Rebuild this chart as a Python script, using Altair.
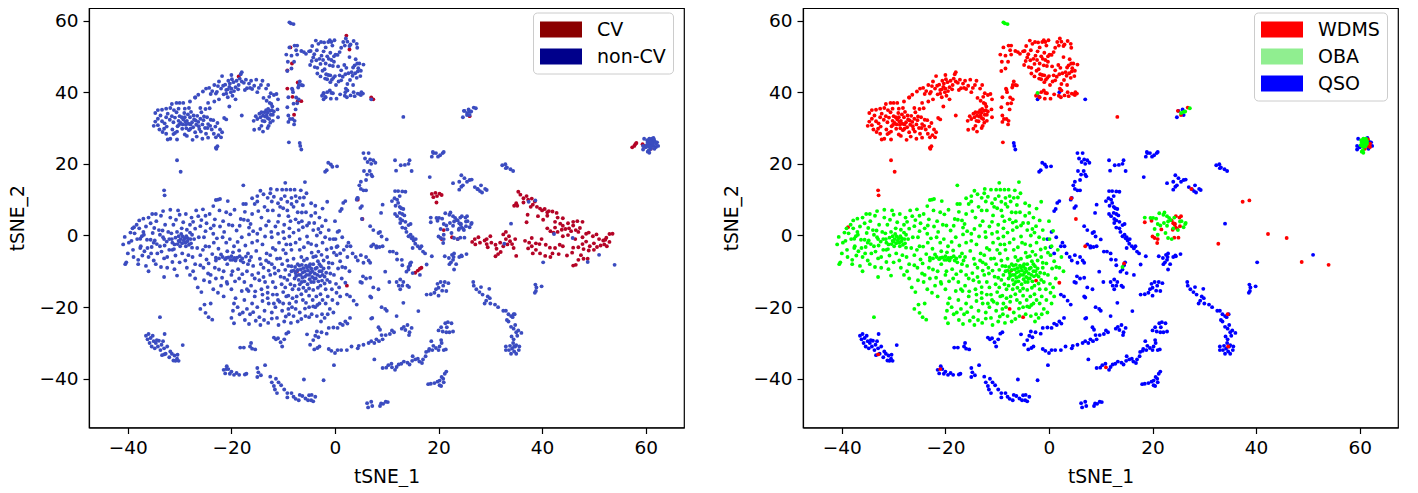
import altair as alt
import pandas as pd

# ---- WDMS: upper clusters
wdms_a = [(-34.7,34.2),(-34.2,35),(-33.4,35.1),(-32.6,35.4),(-31.8,35.6),(-31.5,36.7),(-30.6,37),(-30,37),(-29.3,37),(-28,37.4),(-27,38.5),
(-34.7,31.8),(-34.2,32.6),(-33.7,33.5),(-33.4,31.9),(-32.9,31.3),(-32.6,33),(-32.3,34),(-31.9,32.3),(-31.5,33.3),(-31.2,31.6),(-30.9,32.9),(-30.6,34.4),(-30.4,30.5),(-30.2,32),(-30,33.3),(-29.8,31.4),(-29.5,29.8),(-29.3,32.4),(-29.1,34.2),(-29,33),(-28.8,30.9),(-28.6,32),(-28.3,31.2),(-28.2,29.4),(-28,33),(-27.8,34.5),(-27.6,31.6),(-27.4,30.2),(-27.2,32.4),(-27,28.8),(-26.8,30.9),(-26.6,33.4),(-26.4,31.7),(-26.2,29.7),(-26,32.6),(-25.8,34.4),(-25.6,31),(-25.4,32.2),(-25.1,30),(-24.9,28.4),(-24.7,33),(-24.5,31.1),(-24.2,35.5),(-24,32.3),(-23.8,29.6),(-23.4,28.4),(-23.1,30.4),(-22.7,31.4),(-22.5,28),(-22.2,29.6),(-22,27.4),(-21.8,28.8),(-21.4,32.8),(-21,32.4),(-23,27.4),(-24.5,27.3),(-25.6,27),(-26.7,27.6),(-31.2,28.3),(-31.8,27),(-32.3,26.8),(-30.9,28.6),(-30.5,26.8),(-30.5,29),(-33.3,28.9),(-32.5,30.4),(-34.2,30.8),(-35,30.6),(-33,29.8),(-22.9,24.2),(-23,24.5),(-22.7,24.9),(-30.5,21),(-29.8,17.8),
(-30.1,30.9),(-29.4,31),(-29.6,33),(-28.9,31.8),(-28.4,33.8),(-28.7,29.9),(-27.9,31),(-27.9,29.8),(-27.3,33.5),(-26.9,32.1),(-26.3,30.5),(-25.9,29),(-25.3,33.2),(-24.6,30),(-24.1,30.6),(-23.5,32.2),(-29,35.4),(-28.2,35.6),(-30.2,35.4),(-31.4,29.6),(-32.6,28.4),(-33.9,29.6),(-31.1,35),(-25,35.3),(-26,35.6),(-27.5,26.7),(-29,28.2),(-28.6,27.8)]
wdms_b = [(-27,38.5),(-26.4,39.3),(-25.5,40.2),(-24.9,41),(-24.3,41.2),(-24,39.5),(-23.7,40.3),(-23.3,42),(-22.8,40.1),(-22.4,43),(-22,41),(-21.8,44.5),(-21.5,39.4),(-21.2,42.1),(-21,40.6),(-20.6,43.2),(-20.4,41.5),(-20.1,40),(-19.8,39),(-19.6,42.8),(-19.2,41.4),(-20,44.8),(-18,43),(-18.2,45),(-18,45.6),(-17.6,42.6),(-17.2,43.5),(-17,41.1),(-16.6,42.4),(-16.2,43.2),(-16,40.9),(-15.6,41.8),(-15.2,43.5),(-15,40),(-14.7,41.2),(-14.3,42),(-14,43.2),(-13.3,41),(-12.9,42),(-19.2,38),(-20.7,38.6),(-22.4,38),(-23.3,37.4),(-24.5,37),(-20.4,36),(-18,33.5),
(-21,39.6),(-20.7,40.8),(-20.3,42.4),(-20,41),(-19.9,43.6),(-19.5,40.3),(-19,43.2),(-18.7,40.8),(-18.6,42),(-18.4,43.8),(-22.6,41.7),(-23,39.6),(-21.6,41.8),(-16.4,41.2),(-17.4,40.6)]
wdms_c = [(-15.6,29.5),(-14.6,29.8),(-14.2,30.6),(-13.9,29),(-13.6,31.9),(-14,32),(-13.5,33.2),(-15.7,32),(-15,32.5),(-14.6,34),(-14.2,34.4),(-13.9,33.5),(-13.6,34.4),(-13.2,33.5),(-13,34.3),(-12.7,32.5),(-12.4,33.7),(-12.2,35),(-12.1,36),(-12.6,37),(-13.2,37.6),(-13.8,38.4),(-12.7,38.7),(-12.4,39.7),(-11.8,39.2),(-11.3,39.5),(-11,38),(-11.1,35.2),(-11,33),(-12,32),(-12.5,31.5),(-12.8,30.6),(-13,30),
(-12.9,35.3),(-12.5,34.8),(-13.3,35),(-12,33.7),(-11.8,34.6),(-12.3,36.7),(-13,32.8),(-14.4,33),(-15.3,33.3)]
wdms_d = [(-9.2,45.9),(-9.1,48.5),(-8.4,50.2),(-7.9,48.5),(-8.4,46.6),(-8.1,40),(-9,38.6),(-8.3,41),(-7.5,38.5),(-8,36.8),(-8.2,40.7),(-7.3,36.9),(-7,38),(-7,42),(-6.8,43),(-6.5,42),(-7.1,41.3),(-6.2,41.9),(-7.6,35.2),(-9.2,35.8),(-9,33.5),(-8.7,32.5),(-9,31.7),(-8.2,32.5),(-7.8,32),(-7.9,31)]
wdms_e = [(-7.8,53),(-7.3,53),(-8.8,52.5),(-9.4,50.5),(-7.5,51.7),(-7.3,50.5),(-6.5,51.5),(-6,51.2),(-5.6,50.7),(-5,51.4),(-4.7,51.5),(-4.4,52.9),(-3.7,54.4),(-3.2,53.5),(-2.7,54),(-2.1,53.9),(-1.8,52.5),(-1.3,54),(-1,54.5),(-.7,54),(-.5,53),(-.1,54.5),(.5,50.4),(.9,51.2),(1.2,52.4),(1.6,54),(1.9,53),(2.1,55),(2.4,54.1),(2.8,52.9),(3,53.3),(3.6,54.3),(4.2,53.5),(4.3,52.4),(2.8,49.8),
(-4.8,47.6),(-4.5,48.7),(-4.2,49.7),(-3.9,47),(-3.6,48.9),(-3.4,46.8),(-3,49.3),(-2.8,47.9),(-2.6,50.2),(-2.3,49),(-2,46.4),(-1.8,48),(-1.5,50),(-1.2,49.3),(-.9,51),(-.7,49),(-.4,47.3),(-.2,50),(.1,50.5),(-3.4,45.2),(-2.8,44.4),(-2.4,46),(-1.7,45),(-1.5,43.6),(-1.3,44.8),(-.9,44.7),(-.6,43.5),(-.3,44),(0,44.5),(.7,43),(.9,44.7),(1.2,43.3),(1.5,44.3),(2,45),(2.4,42.3),(2.6,45.3),(2.9,43.4),(3.4,44.6),(3.5,46.9),(3.8,47.5),(4,49.2),(4.3,48),(4.7,48),(5,46),(5.5,47.7),(4.4,45.8),(4.9,44.5),(4.2,44),(3.5,42),
(2.4,40.5),(3,39.1),(3.6,40),(3.8,38.9),(4.4,39.6),(4.8,39.4),(5.4,39.6),(1.9,39),(-2.2,39.6),(-1.8,38.6),(-1,40.5),(-.7,39.8),(-.4,39.7),(.3,38.2),(1,39.4),(-2.5,39),(-1.5,40),(-.8,38.2),(2.3,38.6),(5,39.2),(5.1,40),
(-3.5,51.7),(-4,50.6),(-2.2,51.4),(-1,47.5),(-.2,48.5),(.6,47.2),(1.2,46.1),(1.8,47.6),(2.2,46.8),(-1.9,43.8),(-.9,42.8),(.2,42),(3.2,45.6),(3.9,45.3),(4.5,46.7),(2.1,41)]
wdms_misc = [(13.2,33.1),(-33,12.6),(-32.9,11.2),(-38.8,2.3),(-33,-33.2),(-21,-37.3),(-7.6,-20.5),(-5,-22.8),(-2.5,-12.6),(2,-13.2),(4.3,10.4),(5.2,4.6),(7,-3),(11,-36.8),(14.5,-7.8),(34.5,-22),(34.6,-31),(-7.3,-9.8),(27.5,13),(21,-1),(37.4,9.4),(38.7,9.8),(42.3,.4),(45.9,-.7),(32.7,-2.3),(48.8,-7.4),(54,-8.2),
(18.5,3.7),(19.8,4.1),(21.7,1.7),(20.4,-.7),(20,-.3),(20.9,-2.1),(23.7,4.2),(24,3.4),(24.3,3.3),(24.5,2.2),(23.9,1.6),(25.2,5),(24.5,5.4),(24.3,3),(24.8,1.8),(25,-.6),(24.2,-.6),(25.3,2.6),(25.5,5.4),
(24.9,34.8),(26.8,35.7),(25.5,33.6),(61.6,26.8),(62,25.6),(62,24.7),(61,24.2),(61.5,25),(-8.9,26)]

# ---- OBA: central cloud
oba_a = [(-40.9,-2.5),(-40.6,-.4),(-40,-5),(-40.3,-7.5),(-40.5,-8),(-39.5,.8),(-39.1,2),(-39.3,-1.5),(-39,-4),(-38.7,.6),(-38.3,3),(-38.2,-1),(-38,-6.8),(-37.8,2),(-37.5,-3),(-37.3,-.2),(-37,4.7),(-37,1),(-36.8,-4.4),(-36.5,2.5),(-36.3,-1.2),(-36,5),(-36,-6),(-35.6,3.4),(-35.4,-3.2),(-35.2,.7),(-35,-7),(-34.8,-1.4),(-34.5,4),(-34.3,-5),(-34,1.5),(-33.8,-3),(-33.6,5.5),(-33.2,-.5),(-33,-6.4),(-33,-11.6),(-32.8,3),(-32.5,-1.7),(-32.2,1),(-32,-4),(-31.8,5),(-31.5,-1),(-31.2,3),(-31,-2.5),(-30.8,-5.6),(-30.5,1),(-30.2,-1.5),(-30,-7.5),(-30,-1.7),(-29.8,-1),(-29.5,-2.2),(-29.3,3.7),(-29,-.8),(-28.8,-3),(-28.5,-1.6),(-28.3,-5.5),(-28,.8),(-27.8,-2.2),(-27.5,-6),(-27.2,-1),(-27,1.9),(-26.6,-3.5),(-26.3,-.5),(-26,-8.3),(-25.8,4.3),(-25.5,-4),(-25.3,-.5),(-25,1.2),(-24.8,-6.7),(-24.3,-3.1),(-24,2),(-23.7,-5.2),(-23.5,.5),(-23.2,-9),(-23,-7),(-22.5,-3.7),(-22.2,2.5),(-22,-5.3),(-21.7,-.5),(-21.5,-10),(-21.2,-6.6),(-21,-2),(-20.8,-8),(-20.5,3),(-20.2,-6.8),(-20,-11),(-19.8,-6.8),(-19.5,-3),(-19.2,-7),(-19,1.4),(-18.7,-9.4),(-18.5,-4.2),(-18.2,-7),(-18,-.5),(-17.7,-7.5),(-17.5,-13),(-17.3,-2.8),(-17,-10),(-16.8,-5),(-16.5,-7),(-16.2,-14),(-16,-2),(-15.8,-8.5),(-15.5,-12),(-15.2,-4.3),(-15,.5),(-14.8,-10.5),(-14.5,-6.5),(-14.2,-15),(-14,-2.5),(-13.8,-9),(-13.5,-13),(-13.2,-5),(-13,-17.5),(-12.8,-7.5),(-12.5,-11),(-12.2,-.5),(-12,-3.5),(-11.7,-9),(-11.5,-14.5),(-11.2,-6.5),(-11,-18),(-10.8,-2),(-10.5,-11.5),(-10.2,-8),(-10,-15.8),(-9.8,-.8),(-9.5,-5),(-9.2,-12.4),(-9,-8.5),(-8.8,-19),(-8.6,-2.5),(-8.4,-10),(-8.2,-15),(-8,-6.5),(-7.8,-12),(-7.6,-10.5),(-7.4,-17),(-7.2,-8),(-7,-11),(-6.8,-4),(-6.6,-9.5),(-6.4,-13),(-6.2,-10.3),(-6,-7),(-5.8,-11.5),(-5.6,-15.5),(-5.4,-9),(-5.2,-2),(-5,-11),(-4.8,-8),(-4.6,-13),(-4.4,-10),(-4.2,-6),(-4,-12),(-3.8,-9.3),(-3.6,-17),(-3.4,-11),(-3.2,-4.5),(-3,-8),(-2.8,-14),(-2.6,-10),(-2.4,-2),(-2.2,-7),(-2,-11.5),(-1.8,-15),(-1.5,-6),(-1.2,-9),(-1,-13),(-.7,-3.5),(-.5,-7.8),(-.2,-11),(.1,-1),(.3,-5.5),(.6,-9.2),(1,-7.2),(1.3,-12),(1.7,-4),(2,-9),(2.4,-6),(2.8,-10)]
oba_b = [(-33.5,-4.5),(-33,-1),(-32.4,-6),(-31.4,-4),(-30.7,4.4),(-28.8,6),(-27.7,5),(-26.4,5.4),(-25,5.5),(-24.2,6),(-23.2,4.5),(-22.3,7),(-21,6.5),(-20.2,5.9),(-19.4,7.2),(-31.8,7.2),(-30.3,7),(-30,5.8),(-28,3),(-29.6,2),(-26.8,7),(-25.5,7.3),(-23.5,8.2),(-23,9.9),(-22.6,10),(-22.2,10.2),(-20.7,9.6),(-17.7,14),(-17.7,8.8),(-17.2,8.8),(-17.4,6.6),(-16.8,4.2),(-16.3,3.2),(-16,6),(-15.5,8.8),(-15,9.5),(-14.8,6.8),(-14.4,12.5),(-14.2,5),(-13.8,11.5),(-13.6,8),(-13,10.5),(-12.8,4),(-12.4,13),(-12.2,9.5),(-12,7),(-11.8,10.8),(-11.5,2.5),(-11.2,12.8),(-11,9),(-10.8,5.6),(-10.4,10.2),(-10.2,12.8),(-10,7.6),(-9.8,3),(-9.6,14.7),(-9.4,12.8),(-9.2,9.4),(-9,5.4),(-8.8,2),(-8.6,12.8),(-8.4,10.5),(-8,8),(-7.8,12.8),(-7.6,4.5),(-7.4,9.5),(-7.2,6.5),(-7,1.5),(-6.8,10.5),(-6.4,4),(-6.2,8.5),(-5.8,14.9),(-5.6,6.5),(-5.4,2.8),(-5,3.5),(-4.6,9),(-4.2,1.5),(-3.8,6.3),(-3.5,0),(-2.5,2.6),(-2.4,7.5),(-1.5,9.4),(-1.8,4.2),(-1.2,1.5),(0,4),(.8,1.3)]
oba_c = [(-27.4,-10),(-27,-12),(-26.5,-14.5),(-25.8,-15.8),(-25.3,-12.5),(-24.5,-10.6),(-24.2,-13),(-23.5,-15),(-23,-12),(-22.6,-16),(-22,-14),(-21.5,-17),(-20.8,-13.5),(-20,-15),(-19.5,-19),(-19.2,-17.5),(-18.5,-12),(-18,-15.5),(-17.5,-18),(-17,-20.5),(-16.7,-15.5),(-16.4,-22),(-16,-19),(-15.5,-17),(-15,-20),(-14.6,-22.8),(-14,-18.3),(-13.6,-21),(-13,-16),(-12.8,-19),(-12.2,-21.5),(-12,-16.5),(-11.5,-20),(-11.2,-23),(-10.7,-18.5),(-10.2,-21),(-9.8,-24),(-9.4,-17),(-9,-20.5),(-8.5,-24.4),(-8,-22.5),(-7.5,-18.5),(-6.8,-21.5),(-6.2,-18),(-5.7,-22.5),(-5,-20),(-4.3,-18),(-3.5,-22.5),(-2.5,-22),(-2,-23),(-1.8,-19),(-1,-20.5),(-.5,-18),(.3,-16),(1,-17),(-20,-23),(-19.5,-24.5),(-18.4,-22),(-17.8,-21.5),(-24,-19),(-25,-21.6),(-24.4,-22.8),(-23.7,-23.5),(-26,-20.5),(-25.2,-19.3),(-35,-2),(-36.5,-8.5),(-36,-10),(-38,-8),(-37.6,-3.5),
(-19.7,-21),(-18.8,-20),(-17.4,-23.6),(-16.6,-24.7),(-15.8,-21.4),(-15.3,-23.8),(-14.4,-25),(-13.7,-23.6),(-12.9,-24.4),(-12.2,-23.2),(-11.8,-19),(-10.9,-25),(-10,-19),(-9.5,-22.6),(-8.9,-22),(-8.3,-20),(-7.2,-24),(-6.5,-23.3),(-5.8,-20.4),(-4.5,-22),(-3.8,-20),(-3,-19),(-2.7,-24),(-1.4,-22),(-.3,-21.5),(.5,-19)]
oba_core = [(-8.4,-8.6),(-8,-9.8),(-7.7,-8.8),(-7.5,-11.3),(-7.2,-9.6),(-7,-12.4),(-6.9,-8.4),(-6.6,-11),(-6.4,-8.2),(-6.3,-11.8),(-6.1,-9.1),(-5.9,-12.8),(-5.8,-10),(-5.6,-8.4),(-5.5,-11),(-5.3,-13.6),(-5.2,-9.8),(-5,-8.6),(-4.9,-12.2),(-4.7,-10.4),(-4.6,-9.2),(-4.4,-11.6),(-4.2,-8),(-4.1,-13),(-3.9,-10.6),(-3.7,-12),(-3.5,-9),(-3.3,-7.2),(-3.2,-12.8),(-3,-10),(-2.9,-11.4),(-2.7,-8.6),(-2.4,-11),(-2.2,-9.2),(-2,-13.4),(-1.7,-10.4),(-1.5,-12.4),(-1.2,-7.6),(-.9,-10.6),(-6.8,-13.6),(-6.1,-14.6),(-5,-14.8),(-4.2,-15.2),(-3.3,-14.6),(-8.8,-11),(-9.6,-9.6),(-9.2,-7),(-7.8,-14),(-6.5,-6),(-5.4,-6.5),(-4.5,-4.8),(-3.7,-5.8),(-2.6,-5.4),(-1.6,-3.9),(-8.6,-13.6),(-9.8,-11.8),(-10.9,-9.8),(-11.6,-10.6),(-12.2,-8),(-12.8,-9.8),(-13.3,-7),(-13.8,-11.6),(-14.3,-8),
(-30.8,-.6),(-30.4,-2.4),(-30.2,-.2),(-29.9,-3),(-29.7,.4),(-29.4,-.3),(-29.2,-1.4),(-28.9,-2),(-28.7,-.2),(-28.4,-.8),(-28.2,-2.6),(-27.9,-1),(-27.6,-3.4),(-27.6,.2),(-31.4,-2),(-31.1,-3.8),(-31.6,.6),(-32,-1),(-32.9,-2.8),(-33.3,1.4),(-33.8,.2),(-34.4,-2.4),(-35.6,-1.2),(-34.9,2.1),(-36.9,.2),(-37.6,-.9),
(-23,-6.2),(-22.4,-6.4),(-21.7,-6),(-21,-6.3),(-20.6,-6.1),(-20,-5.8),(-19.4,-6.3),(-18.9,-6.2),(-18.4,-5.8),(-17.9,-6.4),(-17.2,-5.9),(-16.8,-8),(-19.7,-4.7),(-20.8,-4.4),(-16.2,-6)]
oba_fill = [(-39.8,-2),(-38.9,-6),(-37.2,-5.6),(-36.2,-3.5),(-35.5,-5),(-34.6,-8),(-33.6,-8.8),(-32.4,-9),(-31.4,-7.4),(-31,-9.4),(-30.5,-11.2),(-29.5,-5),(-28.9,-7),(-28.6,-9),(-28,-11),(-27,-8),(-26,-5.5),(-25.4,-9),(-25,-3),(-24.4,-7.8),(-24,-11),(-23.4,-2),(-22.8,-.8),(-22.4,-9.5),(-21.8,-11.8),(-21.4,1),(-20.9,-13),(-20.3,-1),(-19.8,-10),(-19.3,-12.8),(-18.8,-1.8),(-18.4,2.7),(-17.9,-10.8),(-17.6,4.4),(-17,-15),(-16.6,.3),(-16,-11),(-15.4,-15.6),(-15,-1.5),(-14.4,1.8),(-14.6,-12.5),(-14,-16.5),(-13.5,-.3),(-13.3,2.8),(-13,-14.4),(-12.5,-5.5),(-12.3,1),(-12,-13),(-11.5,-4),(-11.2,-16.5),(-11,.5),(-10.6,-6.4),(-10.3,-13.6),(-10,-4),(-10,1),(-9.6,-14.5),(-9.4,-2.5),(-9,-16.8),(-8.8,-.3),(-8.4,-4),(-8.2,-17.5),(-8,.8),(-7.6,-2),(-7,-15),(-6.8,-1),(-6.5,-16.4),(-6.2,2.3),(-6,-3.3),(-5.6,-18.8),(-5.4,-.3),(-5,-16.8),(-4.6,-2.4),(-4.2,-19.8),(-3.6,-2.8),(-3.4,-19.4),(-2.8,-16.4),(-2.8,.8),(-2.4,-18),(-1.9,-.5),(-1.4,-17),(-1,-1),(-.6,-15),(-.2,-4.8),(.2,-13.5),(.5,-3),(.8,-14.5),(1.4,-8.8),(-15,11),(-16,10.4),(-13,7),(-12.5,11.8),(-11,3.8),(-10.6,8),(-9.7,11),(-9.2,7),(-8.6,4),(-8.4,8.8),(-7.6,11),(-7,3.6),(-6.6,12.6),(-6.4,6.4),(-6,10.6),(-5.5,11.8),(-4.6,5.5),(-4,3.5),(-3.8,8.3),(-3.2,1.8),(-3,5),(-15.8,1.2),(-16.6,2.2),(-18.2,4.6),(-19.8,2.8),(-21.6,4),(-23.4,2.8),(-24.8,3.4),(-26,2.6),(-27.4,3.8),(-28.6,1.6),(-33.2,6.8),(-34.6,6),(-35.3,6),(-37.8,4.2)]
oba_misc = [(-33.8,-22.8),(-2.2,39.8),(-8.8,59.5),(-8.5,59.2),(-8,59),(14.2,-8.8),
(20.1,4.9),(20.7,4.7),(21.3,6.2),(22.3,6.4),(22.1,5.8),(22.8,5.4),(23.5,4.3),(21,3.2),(21.5,2.8),(22.2,3.5),(22.8,2.7),(23.2,4.9),(23,3.9),(24,2),(25.3,3.9),(25.6,4),(26.3,3.2),(26.4,3.5),(26,2.3),(24.2,5),(24.9,1.5),(20.4,1.8),(21,.2),(22.5,.7),(23,-.7),(18.5,5),(19.6,4.9),(23.7,-1),
(60.2,25.2),(60.4,26),(60.6,25.4),(60.8,26.4),(60.9,25.6),(61,26.8),(61.1,25),(61.2,26),(61.4,26.4),(61.3,25.4),(60.6,24.8),(61,24.8),(60.3,26.6),(60.7,27),(61.2,27),(60.5,25.8),(60.9,26.2),(61.4,25.8),(60.4,23.4),(60.7,23.1),(60.6,23.8),(25.5,34.2),(26,34.5),(26.3,34.6),(27.2,35.5)]

# ---- QSO: outer streams
qso_a = [(-36.5,-28),(-36.2,-29),(-36,-27.5),(-35.8,-30),(-35.6,-28.6),(-35.4,-31),(-35.2,-28),(-35,-29.5),(-34.8,-31.5),(-34.6,-30),(-34.2,-31),(-34,-29.4),(-33.7,-32),(-33.5,-30.5),(-33.4,-33.4),(-33,-31.5),(-32.7,-33),(-32.4,-31),(-32,-34),(-31.8,-32.4),(-31.5,-33),(-31.2,-34.9),(-31,-33.5),(-30.8,-35),(-30.5,-34.4),(-30.4,-33.3),(-30.2,-35),(-32.9,-27.5),(-33.2,-29.5),(-34.4,-29.2),(-29.4,-30.6),
(-21.5,-37.5),(-21.2,-38.5),(-20.9,-36.5),(-20.6,-37.3),(-20.3,-38.6),(-20,-38),(-19.5,-38.9),(-19,-38.4),(-18.5,-38.9),(-17.4,-38.8),(-17.1,-38.6),(-18.3,-31.3),(-17.6,-31.3),(-16.4,-31),(-16.2,-30),(-16,-31.6),(-15.4,-31.8),
(-15,-37),(-14.8,-38.2),(-14.3,-39),(-15,-39.5),(-13.5,-36.2),(-12.5,-39.4),(-12.2,-41),(-11.8,-42),(-11.4,-40),(-11.6,-43),(-11.2,-44),(-10.9,-41),(-10.4,-41.8),(-9.8,-43),(-9.2,-44),(-9.2,-45.2),(-8.4,-44),(-8,-45),(-7.6,-45.6),(-7,-46),(-6.8,-44.5),(-6.3,-44.8),(-5.7,-45.5),(-5.2,-46),(-5,-44.6),(-4.6,-46),(-4.5,-44.5),(-4.2,-46.3),(-3.8,-45),(-6,-40.2),(-2.2,-40.4),(-.2,-36.2),(7.6,-34.6),
(-11.8,-28.5),(-11.4,-29),(-11,-28.7),(-10.5,-29.8),(-10.2,-31),(-9.8,-29),(-9.4,-27.4),(-9,-27),(-5.4,-27.6),(-4.8,-30.5),(-4.2,-29.2),(-3.8,-28),(-3.5,-26.8),(-3.2,-28.4),(-4,-31.8),(-3.4,-31.4),(-3,-31),(-1.6,-27.4),(-2.6,-27),(-1.2,-31.7),(-.7,-32.2),(0,-32.8),(.5,-32),(1.2,-32),(2.3,-32),(3.2,-31),(4.4,-31.5),(4.6,-30.8),(5.5,-30.5),(6.5,-30),(7,-29.5),(7.6,-30),(8,-29),(8.5,-29.5),(9.2,-29),
(6.2,-46.8),(6.4,-48),(7,-46.4),(7.2,-47.6),(8.7,-47.6),(8.9,-46.9),(9.3,-47),(9.8,-46.4),(10.2,-46.5)]
qso_b = [(9.2,-37),(9.9,-36.9),(10.3,-36.2),(10.9,-35.8),(11.6,-37.5),(11.9,-36.7),(12.3,-36),(12.8,-35.8),(13.3,-35.2),(14,-35.5),(14.4,-36),(14.9,-35),(15,-33.7),(15.5,-34.6),(16,-34.4),(16.3,-35.2),(16.8,-35.6),(17,-34.6),(17.5,-33.7),(18.2,-31.7),(18.6,-29.5),(18.8,-32),(19,-30.8),(19.5,-31.4),(20,-32),(20.2,-31),(20.6,-30),(21,-32),(21.4,-31.8),(20.5,-29.2),(17.6,-32.5),(18.1,-32.2),
(18,-41.5),(18.5,-41.4),(19.2,-41.2),(19.8,-40.8),(20.2,-41.8),(20.5,-42),(20.9,-40),(21,-41),(20.6,-39.5),(21.2,-38.6),(21.5,-38),(20.2,-40.5),
(20,-26.5),(20.5,-25.6),(20.8,-26.8),(21.3,-24.5),(21.6,-25.6),(21.8,-24.2),(22.5,-24.5),(22.8,-26.8),(22.1,-27),(21.5,-27),
(12.9,-26),(13.3,-25.5),(13.6,-26.4),(14,-25),(14.4,-27),(14.8,-25.8),(14.3,-27.8),(8.7,-26.3),(9,-27.8),(9.8,-27.8),(10.6,-27.5),(11,-26.5),(11.4,-27),
(17.7,-16.5),(18.5,-16.4),(19.2,-16),(19.5,-15),(19.8,-13.5),(20,-14.6),(20.4,-13),(20.7,-15.4),(20.9,-14),(21.2,-13),(21.5,-15.5),(21.9,-13.3),(20,-16.8),
(11.9,-13),(12.3,-14),(12.6,-12.3),(13,-14),(13.2,-13),(14,-14),(14.3,-14.4),(12.6,-15),
(26.7,-13),(26.8,-14),(27.3,-15),(27.9,-15.8),(28.2,-14.4),(28.5,-16.5),(29.2,-18.2),(29.5,-17),(29.9,-17.5),(28.9,-19),(30,-19),(29.8,-14.9),(30.9,-19.3),(31.5,-20),(32.5,-21),(33,-21),(33.5,-22),(34,-22.5),(34.3,-22.8),(34.7,-22),(33.2,-23.6),(33.5,-24),(34,-25.5),(34.5,-26),(34.8,-25),(35,-27),(35.4,-26.5),(36,-27.2),(35.2,-28),(34.1,-28.2),
(34.5,-29),(34.4,-30),(33.8,-30.8),(34.2,-31.6),(34.6,-32.4),(35,-33),(35.5,-32),(35.6,-31),(33,-31),(33,-32),(33.6,-32),(34.8,-31),(35,-30.6),(34,-33),
(38.7,-13.7),(38.9,-14.5),(39.9,-14.2),(38.8,-15.5),(38.6,-16),(13.2,-18.8),(16.1,-21.1),(11.9,-22.5),(9,-20),(9.7,-20.5),(10,-21),(40.2,-7.5),(51,-5.4),(34,3.3)]
qso_c = [(21.2,-5.8),(22,-6.3),(22.4,-7.5),(22.6,-5.4),(22.9,-6),(23,-5),(22.8,-6.8),(23.4,-8),(23,-9.5),(24,-6),(24.5,-5.8),(25.4,-5.2),(22.1,-8),(24.4,-5.6),
(12.6,3.5),(13,2.2),(13.6,2),(13.8,1),(14.2,-.2),(14.6,.2),(14.8,-.8),(15.2,-1.4),(15.6,-1),(14.2,2.9),(15,-3.5),(15.5,-2.3),(16,-3),(16.4,-3.6),(16.7,-3),(17,-4.5),(17.4,-5),(15,-.5),
(10.6,-4.5),(11.2,-4.5),(11.9,-5),(12,-6.7),(12.9,-6.8),(13,-8.3),(14.5,-8.3),(14.7,-7.5),(14.2,-9.5),(13.8,-10.1),(15,-10.5),(16.4,-11),(17.7,-8.1),(18.7,-5.8),(10,-1.1),(9.7,-10.1),(10.5,-13),(9.2,-3),(8.6,-3.2),(8,-3),
(11.6,12.4),(12.2,12.4),(13,12.3),(13.6,12.2),(12.5,11),(11.5,10.4),(12,10),(11,9.6),(12.2,9.1),(11.7,8.3),(12.5,8),(12.8,7.6),(13.2,7.4),(12.5,6.3),(13,6),(11.6,6),(12,5.4),(13.4,5.6),(12.6,4.6),(13,4.2),(13.6,3.8),(14.6,3.2),(9.2,8.6),(8.9,6.3),(8.7,1),(9,-.3),
(5.5,23),(5.8,21.5),(6.3,20.5),(6.5,23),(6.8,21.2),(7,20),(7.4,21),(7.8,20.3),(5.6,18),(6.2,17),(6.7,18),(7,17),(7.2,16.5),(6,15.5),(5,15),(4.7,14),(5,13),(5.5,12.6),(6,12.6),(4.2,10),(4.4,10.5),(4.9,7.7),(5.2,8.2),(1.6,9.1),(2,9.6),(1,6.8),(1.3,7.4),
(-6.8,25.8),(-6.7,25),(-6.5,24),(-1.3,20.3),(-.8,19.8),(-.5,19.2),(.4,19.3),(-1.6,18.2),(-1.9,17.8),
(11.6,21),(12.7,19.6),(13.5,19.7),(14.2,20),(14.4,21),(14.8,18),(11.8,18.1),(18.7,22),(19,23),(19.5,23),(19.9,22),(20.3,22.4),(20.8,23),(21,23.3),(18.9,23.3),(32.3,19.6),(32.9,19.9),(33.2,19),(33.9,18.5),(34.4,18),(33,18.8),(18.3,16.3),(22.8,14.6),(24,15),(24.4,16.8),(24.7,14),(25,16),(25.5,15),(26,15.5),(26.4,15.6),(24,12.8),(24.4,13.6),(27,13.5),(27.6,12.9),(28,12.4),(28.4,12),(29,13),(29.3,12.7),(28.2,14),
(-.3,-1),(.3,-3.2),(.5,1),(1,-5),(1.4,-.5),(2.3,-3),(2.6,-2),(3,-3),(3.4,-5),(4,-6),(4.4,-7),(5,-5.5),(5.5,-7.6),(6,-6),(6.5,-7),(6.8,-7.6),(6.8,2.6),(7.4,1.5),(8.4,.7),(7.4,-2.5),(8,-3.4),(4.9,-13),(5.4,-11.4),(6,-12),(6.8,-11.8),(5.2,-13.2),(2.3,-16.5),(2.9,-17),(3.6,-18.2),(4.2,-19.3),(6.8,-17),(7,-17.3),(7.4,-14.5),(8.4,-15),(7.2,-23),(7,-23.2),(-.3,-25.7),(.5,-25.8),(1,-24.6),(1.5,-25),(2,-24),(2.4,-24.6),(2.9,-23),(8.4,-25.6),(-1.2,-25.8)]
qso_misc = [(59.7,27),(59.5,25),(59.5,24),(60,24.6),(61.8,26.2),(62.2,26),(62.4,25),(61.7,24.2),(61.5,27.2),(24.7,33),(25,34.8),(25.8,35.2),(26,33.6),(-2.2,38),(-1.9,38.7),(2,40),(7,38)]

# ---- CV: left panel only
cv_tail = [(35.4,12.2),(35.8,11.4),(36.4,10.4),(37,11),(36.4,9.2),(35,9),(34.6,8.3),(35.2,8.3),(37.3,10),(38,10.3),(38.6,9.5),(38.2,8.6),(37.8,8),(39,8),(39.6,7.5),(40,7),(40.5,7.4),(41,6.5),(41.3,6.8),(42,6.7),(41,5.5),(42.8,6.3),(43,5),(39.2,5.4),(37.2,5.8),(40.2,4.4),(37,3.7),(42.5,3.8),(44,4.8),(45,3.4),(46,3.8),(46.8,4),(47.8,3.8),(43.5,3.3),(44,2.7),(42.5,2.2),(41,2),(41.6,1.2),(42.2,.8),(43,1),(43.8,1.6),(44.5,1.8),(45.2,2),(46,2.8),(46.5,1.5),(47.3,2.1),(44,-.2),(45,.1),(45.6,1.2),(46.4,-1),(47,1),(47.8,-.5),(48.5,.5),(49,.8),(49.8,-.2),(50.5,.3),(51,-1),(51.8,-1.4),(52.4,-.6),(53,.4),(53.6,.5),(52.2,-1.2),(52,-2.5),(51.3,-2.8),(50.6,-3.2),(50,-2.2),(48.5,-1.7),(47.8,-2.4),(49.2,-3),(48,-3.8),(49,-4.2),(47,-3.3),(46,-3.4),(45.8,-4.8),(44.8,-5.6),(43.2,-5.2),(42,-5),(41.6,-6),(40.6,-5.7),(39.6,-5),(47.5,-5.5),(47,-6.8),(46.5,-8.2),(46,-8.4),(48,-6.5),(48.8,-6.5),(50,-4),(52.5,-3),(53,-1.8),(44,-3),(43.4,-2.6),(42.5,-3.5),(41.5,-3.4),(40.7,-2.6),(38.8,-4),(38,-3),(37.5,-2),(36.7,-1.5),(38,-.7),(37.3,-3.6),(38.2,-5),(38.8,-2.2),(39.5,-2.4),(39.9,-1),
(26.5,-1.8),(27,-1),(27.1,-2.5),(27.7,-.5),(28,-2),(29.3,-1),(29.3,-2.4),(29.5,-3.3),(30.2,-2),(31,-2.6),(31.2,-3.7),(32,-4.6),(31.5,-5.2),(31,-5.8),(31.9,-2),(32.5,-3),(33,-1),(33.3,-2.5),(33.8,-1.6),(34.2,-2.4),(34.5,-3.5),(34.8,-1),(35,-5.7),(33.6,-.2),(32.5,.3),(33,1),(30,-.2),(28.9,-1.4),(23.7,-1),(22.6,-.5)]
cv_misc = [(57.4,24.6),(57.8,25),(58,25.5),(58.2,25.8),(59.4,25.5),(59.6,25),(61,24.2),(26,33.3),(18.7,11.6),(19,10.7),(19.4,11.9),(19.7,11),(20.2,11.7),(20.6,11.3),(19.6,9.2),(15.5,-10.4),(16,-9.8),(16.4,-9.3),(16.7,-9),(-18.6,44.4),(2.2,55.8),(2.8,51.9),(-8.6,52.5),(-8.3,48),(-9.2,46.1),(-9.2,41),(-7.2,42.7),(-8.2,38.7),(-7.2,37.5),(-7.9,33.7),(-6.5,37.5),(7,38.5),(7.4,38),(5.3,4.6),(4.4,10),(-7.3,-10),(2.3,-14),(21,1.5),(20.6,-1)]

wdms = wdms_a + wdms_b + wdms_c + wdms_d + wdms_e + wdms_misc
oba = oba_a + oba_b + oba_c + oba_core + oba_fill + oba_misc
qso = qso_a + qso_b + qso_c + qso_misc
cv = cv_tail + cv_misc

left_labels = ["CV", "non-CV"]
left_colors = ["#8b0000", "#00008b"]
right_labels = ["WDMS", "OBA", "QSO"]
right_colors = ["#ff0000", "#90ee90", "#0000ff"]
x_ticks = [-40, -20, 0, 20, 40, 60]
y_ticks = [-40, -20, 0, 20, 40, 60]
X_DOMAIN = [-47.5, 67.4]
Y_DOMAIN = [-53.6, 63.5]
PW, PH = 595, 419.5
SIZE = 15

def frame(points):
    return pd.DataFrame(points, columns=["x", "y"])

def dots(points, color):
    return alt.Chart(frame(points)).mark_circle(size=SIZE, opacity=1, color=color).encode(
        x=alt.X("x:Q", scale=alt.Scale(domain=X_DOMAIN, nice=False), title="tSNE_1",
                axis=alt.Axis(values=x_ticks, format="d", titlePadding=10)),
        y=alt.Y("y:Q", scale=alt.Scale(domain=Y_DOMAIN, nice=False), title="tSNE_2",
                axis=alt.Axis(values=y_ticks, format="d", titlePadding=11)),
    )

def key(labels, colors, lx, ly):
    return alt.Chart(pd.DataFrame({"label": labels})).mark_point(filled=True, opacity=0).encode(
        color=alt.Color("label:N", sort=labels, scale=alt.Scale(domain=labels, range=colors),
            legend=alt.Legend(title=None, orient="none", legendX=lx, legendY=ly,
                symbolType="M-1,-0.8H3.2V0.8H-1Z", symbolSize=400, symbolOpacity=1,
                symbolStrokeWidth=0, labelFontSize=19, labelFont="DejaVu Sans", labelColor="black",
                labelOffset=37, rowPadding=7, padding=7,
                fillColor="white", strokeColor="#cccccc", cornerRadius=4))
    )

left = alt.layer(dots(cv, "#b40426"), dots(wdms + oba + qso, "#3b4cc0"),
                 key(left_labels, left_colors, 444, 4.5)).properties(width=PW, height=PH)
right = alt.layer(dots(qso, "#0000ff"), dots(wdms, "#ff0000"), dots(oba, "#00ff00"),
                  key(right_labels, right_colors, 451, 4.5)).properties(width=PW, height=PH)

chart = alt.hconcat(left, right, spacing=37).resolve_scale(color="independent").configure_view(
    stroke="black", strokeWidth=1.2
).configure_axis(
    grid=False, domainColor="black", tickColor="black", tickSize=6, tickWidth=1.2, domainWidth=1.2,
    labelFont="DejaVu Sans", titleFont="DejaVu Sans", labelFontSize=18.5, titleFontSize=18.7,
    labelColor="black", titleColor="black", titleFontWeight="normal", labelPadding=5,
).properties(padding={"left": 0, "top": -1, "right": 0, "bottom": 0})

chart.save("out.html", embed_options={"renderer": "svg", "actions": False})
